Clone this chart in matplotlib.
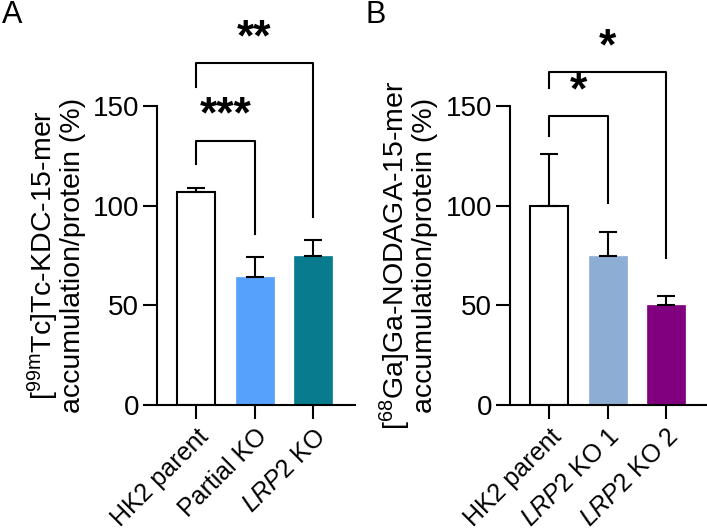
import matplotlib
matplotlib.use("Agg")
import matplotlib.pyplot as plt
import numpy as np

plt.rcParams["font.family"] = ["Liberation Sans", "DejaVu Sans"]
plt.rcParams["mathtext.fontset"] = "custom"
plt.rcParams["mathtext.rm"] = "Liberation Sans"
plt.rcParams["mathtext.it"] = "Liberation Sans:italic"

# panel A data
labels_a = ["HK2 parent", "Partial KO", r"$\it{LRP2}$ KO"]
means_a = [107, 64, 75]
errs_a = [2, 10, 8]
colors_a = ["white", "#55a1fb", "#087b8f"]
ylabel_a = "[$^{\\mathrm{99m}}$Tc]Tc-KDC-15-mer\naccumulation/protein (%)"
# brackets: (i, j, top, left leg end, right leg end, stars)
brackets_a = [(0, 1, 132.5, 121, 86, "***"), (0, 2, 171.5, 159.5, 94.5, "**")]

# panel B data
labels_b = ["HK2 parent", r"$\it{LRP2}$ KO 1", r"$\it{LRP2}$ KO 2"]
means_b = [100, 75, 50]
errs_b = [26, 12, 4.5]
colors_b = ["white", "#8dadd5", "#800080"]
ylabel_b = "[$^{\\mathrm{68}}$Ga]Ga-NODAGA-15-mer\naccumulation/protein (%)"
brackets_b = [(0, 1, 145, 135, 101.5, "*"), (0, 2, 167, 159, 73.5, "*")]

fig = plt.figure(figsize=(7.07, 5.30), dpi=100)
W, H = 707, 530


def panel(left_px, right_px, labels, means, errs, colors, ylabel, brackets, letter, letter_x):
    ax = fig.add_axes([left_px / W, (530 - 405) / H, (right_px - left_px) / W, (405 - 106) / H])
    x = np.arange(len(means))
    lw = 1.5
    for xi, m, e, c in zip(x, means, errs, colors):
        ec = "black" if c == "white" else c
        ax.bar(xi, m, width=0.65, color=c, edgecolor=ec, linewidth=lw if c == "white" else 0.5, zorder=2)
        ax.errorbar(xi, m, yerr=[[0], [e]], color="black", elinewidth=lw, capsize=6.5,
                    capthick=lw, zorder=3)
    ax.set_xlim(-0.667, (right_px - left_px) / 58.5 - 0.667)
    ax.set_ylim(0, 150)
    ax.set_yticks([0, 50, 100, 150])
    ax.set_xticks(x)
    ax.set_xticklabels(labels, rotation=45, ha="right", rotation_mode="anchor", fontsize=18)
    ax.tick_params(axis="y", labelsize=20, length=10, width=lw, pad=3)
    ax.tick_params(axis="x", length=10, width=lw, pad=4)
    for s in ["top", "right"]:
        ax.spines[s].set_visible(False)
    for s in ["left", "bottom"]:
        ax.spines[s].set_linewidth(lw)
    ax.set_ylabel(ylabel, fontsize=20.5, labelpad=5, linespacing=0.95)
    for i, j, top, l_end, r_end, stars in brackets:
        ax.plot([i, i, j, j], [l_end, top, top, r_end], color="black", lw=lw, clip_on=False)
        ax.text((i + j) / 2, top + 2, stars, ha="center", va="bottom", fontsize=32,
                fontweight="bold", clip_on=False)
    fig.text(letter_x / W, 1 - 15 / H, letter, fontsize=22, ha="left", va="center")
    return ax


panel(157, 355, labels_a, means_a, errs_a, colors_a, ylabel_a, brackets_a, "A", 2)
panel(510, 707, labels_b, means_b, errs_b, colors_b, ylabel_b, brackets_b, "B", 366)

fig.savefig("out.png", dpi=100)
